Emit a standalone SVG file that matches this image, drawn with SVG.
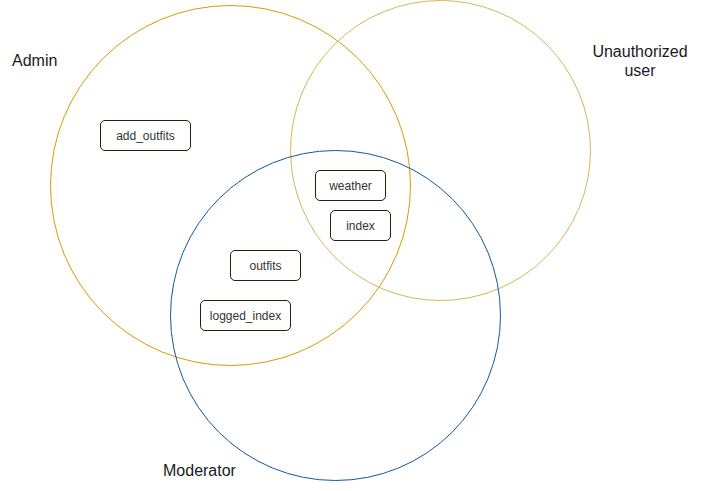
<svg xmlns="http://www.w3.org/2000/svg" width="701" height="491" viewBox="0 0 701 491">
<style>
.c{fill:none;stroke-width:1}
.b{fill:#ffffff;stroke:#331a00;stroke-width:1}
.t{font-family:"Liberation Sans",Arial,sans-serif;font-size:12px;fill:#333333;text-anchor:middle}
.l{font-family:"Liberation Sans",Arial,sans-serif;font-size:16px;fill:#1a1a1a}
</style>
<rect width="701" height="491" fill="#ffffff"/>
<g id="circles">
<circle id="admin-set" class="c" cx="230.5" cy="185.5" r="180" stroke="#d79b00"/>
<circle id="unauth-set" class="c" cx="440.5" cy="150.5" r="150" stroke="#d6b656"/>
<circle id="moderator-set" class="c" cx="335.5" cy="315.5" r="165" stroke="#10599e"/>
</g>
<g id="connectors"></g>
<g id="node-add_outfits"><rect class="b" x="100.5" y="120.5" width="90" height="30" rx="4.5"/><text class="t" x="145.5" y="139.5">add_outfits</text></g>
<g id="node-weather"><rect class="b" x="315.5" y="170.5" width="70" height="30" rx="4.5"/><text class="t" x="350.5" y="189.5">weather</text></g>
<g id="node-index"><rect class="b" x="330.5" y="210.5" width="60" height="30" rx="4.5"/><text class="t" x="360.5" y="229.5">index</text></g>
<g id="node-outfits"><rect class="b" x="230.5" y="250.5" width="70" height="30" rx="4.5"/><text class="t" x="265.5" y="269.5">outfits</text></g>
<g id="node-logged_index"><rect class="b" x="200.5" y="300.5" width="90" height="30" rx="4.5"/><text class="t" x="245.5" y="319.5">logged_index</text></g>
<g id="label-admin"><text class="l" x="12" y="66">Admin</text></g>
<g id="label-unauth"><text class="l" x="640" y="57" text-anchor="middle">Unauthorized</text><text class="l" x="640" y="76" text-anchor="middle">user</text></g>
<g id="label-moderator"><text class="l" x="163" y="476">Moderator</text></g>
</svg>
